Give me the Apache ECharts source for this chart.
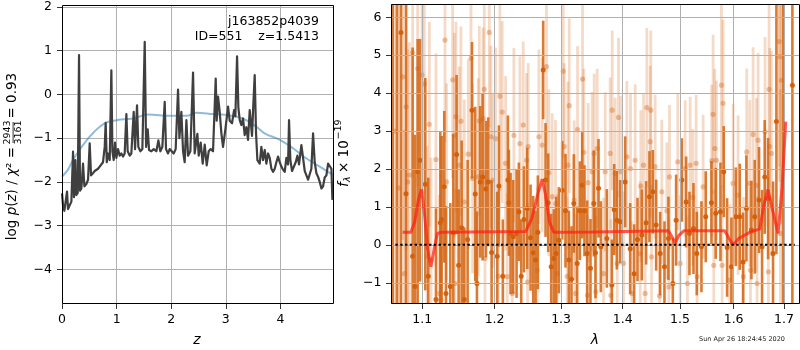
<!DOCTYPE html>
<html><head><meta charset="utf-8">
<script src="https://cdn.jsdelivr.net/npm/echarts@6/dist/echarts.min.js"></script>
<style>html,body{margin:0;padding:0;background:#fff}#c{width:800px;height:350px}</style>
</head><body><div id="c"></div>
<script>
// ---------- left panel: log p(z) ----------
const zTicks = [0, 1, 2, 3, 4];
const logpTicks = [-4, -3, -2, -1, 0, 1, 2];
const zGrid = [0.00,0.02,0.043,0.068,0.092,0.11,0.141,0.172,0.202,0.22,
0.245,0.263,0.288,0.312,0.33,0.355,0.385,0.41,0.446,0.477,
0.507,0.532,0.568,0.599,0.629,0.66,0.69,0.721,0.751,0.782,
0.80,0.82,0.843,0.874,0.904,0.923,0.947,0.971,0.996,1.026,
1.057,1.087,1.118,1.148,1.179,1.203,1.24,1.27,1.313,1.338,
1.374,1.398,1.435,1.472,1.515,1.54,1.57,1.594,1.637,1.68,
1.728,1.765,1.801,1.838,1.881,1.905,1.942,1.972,2.009,2.045,
2.082,2.125,2.15,2.186,2.217,2.247,2.278,2.308,2.351,2.40,
2.43,2.479,2.504,2.54,2.577,2.614,2.65,2.687,2.723,2.766,
2.815,2.833,2.858,2.888,2.919,2.949,2.992,3.041,3.071,3.114,
3.151,3.175,3.206,3.23,3.255,3.285,3.315,3.346,3.376,3.407,
3.438,3.48,3.505,3.529,3.554,3.578,3.621,3.651,3.682,3.713,
3.743,3.774,3.804,3.835,3.865,3.896,3.926,3.957,3.987,4.018,
4.048,4.079,4.109,4.14,4.158,4.182,4.213,4.243,4.28,4.311,
4.341,4.384,4.415,4.445,4.476,4.506,4.537,4.567,4.598,4.628,
4.659,4.689,4.72,4.751,4.781,4.811,4.842,4.873,4.903,4.934,4.952];
const logpValues = [-2.26,-2.55,-2.66,-2.68,-2.22,-2.62,-2.66,-2.45,-1.31,-2.35,
-1.5,-2.3,-2.25,0.9,-2.2,-2.15,-1.58,-2.1,-2.05,-1.95,
-1.12,-1.85,-1.8,-1.75,-1.72,-1.7,-1.65,-1.62,-1.55,-1.2,
-0.65,-1.55,-1.35,-1.5,0.55,-1.3,-1.5,-1.1,-1.45,-1.25,
-1.4,-1.35,-1.42,-1.35,-0.45,-1.3,-1.4,-1.35,-0.4,-1.25,
-0.25,-1.2,-1.3,-1.25,1.2,-1.2,-0.8,-1.27,-1.3,-1.25,
-1.3,-1.05,-1.3,-1.2,-0.17,-1.25,-1.35,-1.25,-1.3,-1.35,
-1.25,0.11,-1.0,-0.4,-1.3,-1.55,-0.59,-1.4,-1.3,0.5,
-1.35,-0.9,-1.4,-1.1,-1.58,-1.15,-1.62,-1.3,-1.25,-1.3,
0.36,-0.6,-0.05,-0.4,-0.89,-1.2,-0.8,-0.28,-0.6,-0.66,
-0.36,-0.5,0.87,-0.3,-0.59,-0.7,-0.55,-0.93,-0.75,-1.04,
-0.36,-0.95,-0.2,0.44,-0.9,-1.5,-1.58,-1.2,-1.5,-1.27,
-1.58,-1.35,-1.45,-1.7,-1.77,-1.7,-1.55,-1.42,-1.55,-1.65,
-1.72,-1.77,-1.45,-1.6,-0.59,-1.5,-1.75,-1.72,-1.55,-1.4,
-1.6,-1.16,-1.45,-1.75,-1.85,-1.95,-1.96,-1.7,-0.89,-1.55,
-1.8,-1.88,-2.0,-2.15,-2.1,-1.9,-1.85,-1.58,-1.6,-1.7,-2.41];
const zSmooth = [0,0.11,0.2,0.32,0.45,0.57,0.78,1.0,1.3,1.58,1.97,2.28,2.46,2.77,3.01,3.31,3.56,3.71,3.99,4.23,4.47,4.72,4.96];
const logpSmooth = [-1.88,-1.72,-1.5,-1.27,-1.05,-0.88,-0.66,-0.59,-0.55,-0.46,-0.49,-0.49,-0.42,-0.45,-0.47,-0.55,-0.74,-0.89,-1.04,-1.23,-1.46,-1.65,-1.84];

// ---------- right panel: spectrum ----------
const lamTicks = [1.1, 1.2, 1.3, 1.4, 1.5, 1.6, 1.7];
const fluxTicks = [-1, 0, 1, 2, 3, 4, 5, 6];
const darkLam = [1.0615,1.0670,1.0722,1.0787,1.0873,1.0904,1.0939,1.0970,1.1040,1.1080,
1.1183,1.1241,1.1259,1.1295,1.1318,1.1377,1.1418,1.1464,1.1492,1.1534,
1.1570,1.1617,1.1678,1.1724,1.1748,1.1795,1.1828,1.1876,1.1909,1.1957,
1.2038,1.2063,1.2120,1.2194,1.2208,1.2233,1.2272,1.2322,1.2356,1.2391,
1.2431,1.2481,1.2531,1.2571,1.2606,1.2642,1.2723,1.2759,1.2800,1.2846,
1.2887,1.2924,1.2965,1.3017,1.3069,1.3122,1.3164,1.3201,1.3254,1.3297,
1.3334,1.3371,1.3414,1.3468,1.3522,1.3549,1.3599,1.3637,1.3736,1.3819,
1.3858,1.3902,1.3958,1.4042,1.4127,1.4195,1.4252,1.4326,1.4401,1.4459,
1.4517,1.4576,1.4646,1.4722,1.4793,1.4871,1.4930,1.5033,1.5111,1.5172,
1.5245,1.5306,1.5392,1.5472,1.5578,1.5659,1.5748,1.5811,1.5875,1.5958,
1.6041,1.6118,1.6183,1.6248,1.6346,1.6412,1.6497,1.6557,1.6610,1.6677,
1.6777,1.6845,1.6981,1.7172];
const darkFlux = [7.0,-2.0,5.6,1.35,-0.3,-1.1,1.93,2.23,1.6,-0.83,
-1.44,0.58,0.67,1.53,-1.28,-1.1,0.32,2.38,-0.54,0.45,
-1.44,0.14,3.55,1.34,-1.02,1.66,1.79,1.47,1.66,-0.2,
-0.3,1.55,-0.83,1.71,1.11,0.3,0.21,0.3,0.87,-0.83,
0.67,0.96,0.19,-0.21,-0.4,0.33,4.61,1.71,1.11,-0.58,
-0.36,-0.23,0.12,1.44,0.9,-0.4,-0.91,1.09,-0.49,0.9,
1.57,0.9,-0.23,-0.62,1.09,-0.21,1.49,-0.05,0.17,-1.06,
0.93,0.65,0.61,1.66,-0.1,-0.76,0.14,0.26,0.58,1.27,
1.4,0.52,-0.23,-0.58,0.17,-1.02,0.65,1.71,1.13,0.3,
0.43,-0.23,-0.05,0.74,1.11,0.83,0.87,1.93,-0.07,-0.58,
0.74,0.74,-0.45,0.96,0.39,0.74,1.18,-0.05,1.79,1.22,
-0.23,3.25,8.0,4.21];
const darkErr = [12,12,9,8,5.5,4,3.5,3.2,2.8,2.6,
2.4,2.4,2.2,2.0,2.3,2.2,2.6,2.1,2.0,2.3,
1.9,2.1,1.8,2.3,1.9,2.0,2.2,1.8,1.7,1.9,
1.7,1.6,1.5,1.7,1.4,1.6,1.5,1.7,1.3,1.5,
1.4,1.6,1.4,1.5,1.3,1.5,1.3,1.5,1.3,1.4,
1.3,1.5,1.4,1.3,1.5,1.3,1.4,1.3,1.5,1.3,
1.4,1.2,1.4,1.3,1.4,1.2,1.3,1.2,1.3,1.2,
1.2,1.3,1.1,1.2,1.2,1.3,1.1,1.2,1.1,1.2,
1.1,1.2,1.1,1.2,1.1,1.2,1.2,1.1,1.2,1.1,
1.2,1.1,1.2,1.2,1.1,1.2,1.3,1.2,1.3,1.3,
1.3,1.4,1.3,1.4,1.3,1.5,1.4,1.5,1.5,1.6,
1.9,3.5,12,12];
const lightLam = [1.0640,1.0690,1.0743,1.0765,1.0787,1.0808,1.0830,1.0873,1.0939,1.0996,
1.1027,1.1063,1.1094,1.1116,1.1183,1.1228,1.1250,1.1305,1.1325,1.1409,
1.1432,1.1441,1.1455,1.1501,1.1524,1.1570,1.1626,1.1664,1.1687,1.1767,
1.1781,1.1835,1.1852,1.1862,1.1924,1.1948,1.1972,
1.2014,1.2053,1.2077,1.2111,1.2160,1.2184,1.2258,1.2282,1.2371,1.2421,
1.2471,1.2486,1.2496,1.2632,1.2657,1.2708,1.2774,1.2810,1.2861,1.2913,
1.2939,1.3033,1.3049,1.3096,1.3106,1.3128,1.3207,1.3228,1.3260,1.3340,
1.3361,1.3420,1.3430,1.3495,1.3528,1.3555,1.3577,
1.3681,1.3709,1.3791,1.3802,1.3825,1.3874,1.3908,1.3930,1.3969,1.4014,
1.4070,1.4132,1.4156,1.4212,1.4298,1.4309,1.4355,1.4384,1.4413,1.4471,
1.4482,1.4495,1.4558,1.4635,1.4675,1.4764,1.4800,1.4811,1.4960,1.5002,
1.5093,1.5135,1.5184,1.5233,1.5294,1.5312,
1.5423,1.5584,1.5609,1.5622,1.5641,1.5672,1.5767,1.5780,1.5798,1.5926,
1.5990,1.6086,1.6190,1.6255,1.6314,1.6327,1.6379,1.6445,1.6458,1.6478,
1.6617,1.6684,1.6697,1.6710,1.6744,1.6899,1.6913,1.6927,1.6947];
const lightFlux = [3.0,1.5,4.43,-0.76,3.64,1.66,1.84,5.07,4.65,4.48,
4.24,-0.3,3.18,-0.4,2.25,-1.28,-1.46,5.4,1.66,4.35,
2.89,-1.02,3.38,2.1,3.26,1.13,2.39,4.92,1.75,1.79,
3.27,3.33,4.1,-0.36,5.6,2.85,1.7,
2.8,-0.83,3.92,3.5,2.15,-0.84,-1.28,2.89,2.67,3.16,
2.23,-0.98,2.59,-0.67,2.85,2.63,4.7,1.9,1.27,1.09,
-0.76,4.58,2.59,-0.83,2.1,3.67,1.18,-1.28,3.04,4.37,
2.44,-1.33,1.64,1.93,2.41,-1.24,2.54,
-0.76,1.93,2.41,-1.33,3.55,1.88,-0.49,3.36,1.93,-0.49,
2.32,2.01,-1.28,2.23,-0.23,1.55,2.1,-1.28,3.62,2.72,
3.55,-0.32,2.06,-1.35,1.4,0.9,-1.11,1.79,2.19,-0.49,
2.01,-1.02,2.1,1.25,2.15,-0.84,
1.53,2.22,3.44,-0.54,2.54,2.23,4.21,-0.54,3.73,-0.93,
1.62,1.31,-0.84,2.45,1.62,-0.67,2.91,1.57,-1.02,2.76,
2.98,-0.71,4.1,2.59,2.41,5.36,4.96,0.3,4.34];
const lightErr = [6,6,4.3,3.8,3.8,3.5,3.5,3.3,3.1,3.1,
2.9,2.9,2.7,2.7,2.8,2.6,2.5,2.7,2.6,2.6,
2.7,2.5,2.5,2.6,2.5,2.7,2.5,2.6,2.5,2.6,
2.5,2.4,2.5,2.3,2.5,2.4,2.3,
2.4,2.3,2.5,2.4,2.3,2.2,2.3,2.3,2.3,2.2,
2.3,2.1,2.2,2.2,2.3,2.3,2.4,2.2,2.2,2.2,
2.1,2.3,2.2,2.1,2.2,2.3,2.1,2.1,2.2,2.3,
2.2,2.1,2.1,2.1,2.1,2.0,2.1,
2.0,2.1,2.0,2.0,2.1,2.0,1.9,2.1,2.0,1.9,
2.0,2.0,1.9,2.0,1.9,2.0,1.9,1.9,2.1,2.0,
2.1,1.9,1.9,1.8,1.9,1.8,1.8,1.9,1.8,1.8,
1.8,1.8,1.8,1.8,1.8,1.8,
1.9,2.0,2.1,2.0,2.1,2.1,2.2,2.1,2.2,2.0,
2.1,2.1,2.1,2.2,2.2,2.2,2.3,2.3,2.3,2.3,
2.5,2.5,2.6,2.6,2.7,3.3,3.3,3.8,3.8];
const modelLam = [1.0743,1.0851,1.0900,1.0950,1.0991,1.1030,1.1070,1.1115,1.1160,1.1200,1.1250,
1.2456,1.2550,1.2650,1.2708,1.2760,1.2820,1.2887,1.3500,1.4300,
1.4793,1.4860,1.4912,1.4980,1.5070,1.5830,1.5920,1.5990,1.6100,1.6300,
1.6470,1.6510,1.6600,1.6677,1.6770,1.6879,1.6960,1.7035];
const modelFlux = [0.33,0.33,0.6,1.2,1.46,0.8,-0.1,-0.58,-0.1,0.3,0.33,
0.35,0.7,1.4,1.73,1.3,0.6,0.33,0.34,0.36,
0.37,0.2,0.05,0.25,0.37,0.37,0.15,0.0,0.17,0.32,
0.4,0.42,1.1,1.46,0.9,0.3,1.5,3.25];
const zeroLam = [1.065, 1.722];
const zeroFlux = [0, 0];

// ---------- drawing ----------
const FONT = 'DejaVu Sans';
const minus = v => String(v).replace('-', '\u2212');
const lg = Math.log10;
const pairs = (a, b) => a.map((v, i) => [v, b[i]]);
const triples = (l, f, e) => l.map((v, i) => [lg(v), f[i], e[i]]);

function errRender(barColor, dotColor, barW, r) {
  return function (params, api) {
    const x = api.value(0), y = api.value(1), e = api.value(2);
    const lo = api.coord([x, y - e]), hi = api.coord([x, y + e]), c = api.coord([x, y]);
    return {type: 'group', children: [
      {type: 'line', shape: {x1: lo[0], y1: lo[1], x2: hi[0], y2: hi[1]}, style: {stroke: barColor, lineWidth: barW}},
      {type: 'circle', shape: {cx: c[0], cy: c[1], r: r}, style: {fill: dotColor}}
    ]};
  };
}

const tickStyle = {show: true, length: 5, inside: false, lineStyle: {color: '#000', width: 0.8}};
const labStyle = {color: '#000', fontSize: 12.5, fontFamily: FONT};
const gridLine = {show: true, lineStyle: {color: '#b0b0b0', width: 1}};
const noLine = {show: false, onZero: false};

const chart = echarts.init(document.getElementById('c'), null, {renderer: 'canvas', width: 800, height: 350});
chart.setOption({
  animation: false,
  backgroundColor: '#fff',
  textStyle: {fontFamily: FONT},
  grid: [
    {left: 62, top: 6, width: 271, height: 298, containLabel: false},
    {left: 391, top: 4, width: 408, height: 300, containLabel: false}
  ],
  xAxis: [
    {gridIndex: 0, type: 'value', min: 0, max: 4.963, axisLine: noLine,
     axisTick: Object.assign({}, tickStyle, {customValues: zTicks}),
     axisLabel: Object.assign({}, labStyle, {customValues: zTicks, margin: 9, formatter: minus}),
     splitLine: gridLine},
    {gridIndex: 1, type: 'value', min: 0.025046, max: 0.238283, z: 4, axisLine: noLine,
     axisTick: Object.assign({}, tickStyle, {customValues: lamTicks.map(lg)}),
     axisLabel: Object.assign({}, labStyle, {customValues: lamTicks.map(lg), margin: 9,
       formatter: v => Math.pow(10, v).toFixed(1)}),
     splitLine: gridLine}
  ],
  yAxis: [
    {gridIndex: 0, type: 'value', min: -4.79, max: 2.02, axisLine: noLine,
     axisTick: Object.assign({}, tickStyle, {customValues: logpTicks}),
     axisLabel: Object.assign({}, labStyle, {customValues: logpTicks, margin: 10, formatter: minus}),
     splitLine: gridLine},
    {gridIndex: 1, type: 'value', min: -1.56, max: 6.35, z: 4, axisLine: noLine,
     axisTick: Object.assign({}, tickStyle, {customValues: fluxTicks}),
     axisLabel: Object.assign({}, labStyle, {customValues: fluxTicks, margin: 9.5, formatter: minus}),
     splitLine: gridLine}
  ],
  series: [
    {type: 'line', xAxisIndex: 0, yAxisIndex: 0, data: pairs(zSmooth, logpSmooth), smooth: 0.4,
     showSymbol: false, symbol: 'none', clip: true, z: 2,
     lineStyle: {color: 'rgba(31,119,180,0.5)', width: 2}},
    {type: 'line', xAxisIndex: 0, yAxisIndex: 0, data: pairs(zGrid, logpValues),
     showSymbol: false, symbol: 'none', clip: true, z: 3,
     lineStyle: {color: '#3f3f3f', width: 2.2, join: 'round'}},
    {type: 'custom', xAxisIndex: 1, yAxisIndex: 1, data: triples(lightLam, lightFlux, lightErr),
     renderItem: errRender('rgba(214,101,20,0.24)', 'rgba(214,101,20,0.38)', 2.8, 2.6), clip: true, z: 2},
    {type: 'custom', xAxisIndex: 1, yAxisIndex: 1, data: triples(darkLam, darkFlux, darkErr),
     renderItem: errRender('rgba(212,100,16,0.85)', 'rgba(210,95,10,0.95)', 2.6, 2.5), clip: true, z: 3},
    {type: 'line', xAxisIndex: 1, yAxisIndex: 1, data: modelLam.map((l, i) => [lg(l), modelFlux[i]]),
     showSymbol: false, symbol: 'none', clip: true, z: 5,
     lineStyle: {color: 'rgba(255,30,20,0.72)', width: 3}},
    {type: 'line', xAxisIndex: 1, yAxisIndex: 1, data: zeroLam.map((l, i) => [lg(l), zeroFlux[i]]),
     showSymbol: false, symbol: 'none', clip: true, z: 6,
     lineStyle: {color: '#000', width: 2, type: [2.4, 2.4]}}
  ],
  graphic: [
    {type: 'rect', z: 100, shape: {x: 62.5, y: 5.5, width: 271, height: 298}, style: {fill: 'none', stroke: '#000', lineWidth: 1}},
    {type: 'rect', z: 100, shape: {x: 391.5, y: 4.5, width: 408, height: 299}, style: {fill: 'none', stroke: '#000', lineWidth: 1}},
    {type: 'text', z: 100, x: 319, y: 22, style: {text: 'j163852p4039', fontSize: 12.5, fontFamily: FONT, fill: '#000',
      textAlign: 'right', align: 'right', textVerticalAlign: 'middle', verticalAlign: 'middle'}},
    {type: 'text', z: 100, x: 319, y: 36.5, style: {text: 'ID=551    z=1.5413', fontSize: 12.5, fontFamily: FONT, fill: '#000',
      textAlign: 'right', align: 'right', textVerticalAlign: 'middle', verticalAlign: 'middle'}},
    {type: 'text', z: 100, x: 197, y: 340, style: {text: 'z', fontSize: 14, fontStyle: 'italic', fontFamily: FONT, fill: '#000',
      textAlign: 'center', align: 'center', textVerticalAlign: 'middle', verticalAlign: 'middle'}},
    {type: 'text', z: 100, x: 595, y: 340, style: {text: 'λ', fontSize: 14, fontStyle: 'italic', fontFamily: FONT, fill: '#000',
      textAlign: 'center', align: 'center', textVerticalAlign: 'middle', verticalAlign: 'middle'}},
    {type: 'text', z: 100, x: 742, y: 339.5, style: {text: 'Sun Apr 26 18:24:45 2020', fontSize: 6.5, fontFamily: FONT, fill: '#222',
      textAlign: 'center', align: 'center', textVerticalAlign: 'middle', verticalAlign: 'middle'}},
    {type: 'group', z: 100, x: 12.5, y: 158, rotation: Math.PI / 2, children: [
      {type: 'text', z: 100, x: 11, y: 0, style: {
        text: '{n|log }{i|p}{n|(}{i|z}{n|) / }{i|χ}{n|² =}',
        rich: {n: {fontSize: 13.5, fontFamily: FONT, fill: '#000'}, i: {fontSize: 13.5, fontFamily: FONT, fontStyle: 'italic', fill: '#000'}},
        textAlign: 'right', align: 'right', textVerticalAlign: 'middle', verticalAlign: 'middle'}},
      {type: 'text', z: 100, x: 25.5, y: -4.8, style: {text: '2943', fontSize: 9.5, fontFamily: FONT, fill: '#000',
        textAlign: 'center', align: 'center', textVerticalAlign: 'middle', verticalAlign: 'middle'}},
      {type: 'text', z: 100, x: 25.5, y: 5.6, style: {text: '3161', fontSize: 9.5, fontFamily: FONT, fill: '#000',
        textAlign: 'center', align: 'center', textVerticalAlign: 'middle', verticalAlign: 'middle'}},
      {type: 'line', z: 100, shape: {x1: 15, y1: 0.6, x2: 36, y2: 0.6}, style: {stroke: '#000', lineWidth: 0.8}},
      {type: 'text', z: 100, x: 39.5, y: 0, style: {text: '= 0.93', fontSize: 13.5, fontFamily: FONT, fill: '#000',
        textAlign: 'left', align: 'left', textVerticalAlign: 'middle', verticalAlign: 'middle'}}
    ]},
    {type: 'group', z: 100, x: 344, y: 187, rotation: Math.PI / 2, children: [
      {type: 'text', z: 100, x: 0, y: 0, style: {text: 'f', fontSize: 13.5, fontStyle: 'italic', fontFamily: FONT, fill: '#000',
        textAlign: 'left', align: 'left', textVerticalAlign: 'middle', verticalAlign: 'middle'}},
      {type: 'text', z: 100, x: 5, y: 4, style: {text: 'λ', fontSize: 9.5, fontStyle: 'italic', fontFamily: FONT, fill: '#000',
        textAlign: 'left', align: 'left', textVerticalAlign: 'middle', verticalAlign: 'middle'}},
      {type: 'text', z: 100, x: 14, y: 0, style: {text: '× 10', fontSize: 13.5, fontFamily: FONT, fill: '#000',
        textAlign: 'left', align: 'left', textVerticalAlign: 'middle', verticalAlign: 'middle'}},
      {type: 'text', z: 100, x: 47.5, y: -5, style: {text: '\u221219', fontSize: 9.5, fontFamily: FONT, fill: '#000',
        textAlign: 'left', align: 'left', textVerticalAlign: 'middle', verticalAlign: 'middle'}}
    ]}
  ]
});
</script>
</body></html>
